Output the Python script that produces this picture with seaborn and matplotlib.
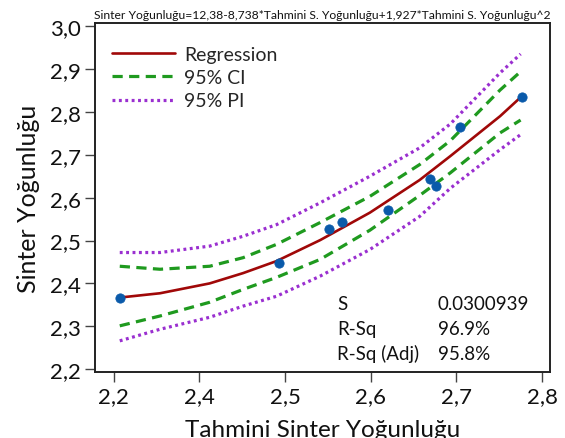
import matplotlib
matplotlib.use("Agg")
import matplotlib.pyplot as plt
import pandas as pd
import seaborn as sns

# observed points (predicted vs measured sinter density)
obs_x = [2.307, 2.493, 2.551, 2.566, 2.620, 2.669, 2.676, 2.704, 2.777]
obs_y = [2.367, 2.447, 2.528, 2.544, 2.572, 2.644, 2.628, 2.765, 2.835]

# curves
curve_x = [2.307, 2.354, 2.412, 2.451, 2.490, 2.541, 2.599, 2.657, 2.693, 2.751, 2.775]
fit_y = [2.367, 2.377, 2.400, 2.424, 2.452, 2.501, 2.565, 2.641, 2.697, 2.790, 2.834]
ci_hi = [2.440, 2.433, 2.440, 2.460, 2.491, 2.542, 2.603, 2.677, 2.733, 2.851, 2.894]
ci_lo = [2.301, 2.324, 2.356, 2.386, 2.414, 2.456, 2.524, 2.605, 2.658, 2.751, 2.781]
pi_hi = [2.472, 2.472, 2.487, 2.510, 2.537, 2.588, 2.650, 2.716, 2.772, 2.891, 2.935]
pi_lo = [2.266, 2.293, 2.321, 2.347, 2.370, 2.417, 2.479, 2.556, 2.622, 2.712, 2.747]

x_ticks = [2.3, 2.4, 2.5, 2.6, 2.7, 2.8]
x_tick_labels = ["2,2", "2,4", "2,5", "2,6", "2,7", "2,8"]
y_ticks = [2.2, 2.3, 2.4, 2.5, 2.6, 2.7, 2.8, 2.9, 3.0]
y_tick_labels = ["2,2", "2,3", "2,4", "2,5", "2,6", "2,7", "2,8", "2,9", "3,0"]

stats_names = ["S", "R-Sq", "R-Sq (Adj)"]
stats_values = ["0.0300939", "96.9%", "95.8%"]

TITLE = "Sinter Yoğunluğu=12,38-8,738*Tahmini S. Yoğunluğu+1,927*Tahmini S. Yoğunluğu^2"

RED = "#a00808"
GREEN = "#1f9a1f"
PURPLE = "#9a2fd0"
BLUE = "#0a5aaa"

sns.set_theme(style="white")
plt.rcParams["font.family"] = ["Lato", "DejaVu Sans"]

fig, ax = plt.subplots(figsize=(5.65, 4.39), dpi=100)
fig.subplots_adjust(left=0.168, right=0.973, top=0.945, bottom=0.150)

curves = pd.DataFrame({"x": curve_x, "fit": fit_y, "ci_hi": ci_hi, "ci_lo": ci_lo,
                       "pi_hi": pi_hi, "pi_lo": pi_lo})

sns.lineplot(data=curves, x="x", y="fit", color=RED, lw=1.9, ax=ax, label="Regression")
sns.lineplot(data=curves, x="x", y="ci_hi", color=GREEN, lw=2.3, ax=ax, label="95% CI")
sns.lineplot(data=curves, x="x", y="ci_lo", color=GREEN, lw=2.3, ax=ax)
sns.lineplot(data=curves, x="x", y="pi_hi", color=PURPLE, lw=2.3, ax=ax, label="95% PI")
sns.lineplot(data=curves, x="x", y="pi_lo", color=PURPLE, lw=2.3, ax=ax)

lines = ax.get_lines()
for ln in lines[1:3]:
    ln.set_linestyle((0, (3.2, 2.0)))
for ln in lines[3:5]:
    ln.set_linestyle((0, (0.9, 1.1)))

sns.scatterplot(x=obs_x, y=obs_y, color=BLUE, s=45, edgecolor=BLUE, zorder=5, ax=ax)

ax.set_xlim(2.278, 2.809)
ax.set_ylim(2.193, 3.007)
ax.set_xticks(x_ticks)
ax.set_xticklabels(x_tick_labels)
ax.set_yticks(y_ticks)
ax.set_yticklabels(y_tick_labels)
ax.tick_params(axis="both", which="major", direction="out", length=7, width=1.0,
               color="#444444", labelsize=16, labelcolor="#111111", pad=3,
               bottom=True, left=True, top=False, right=False)

for sp in ax.spines.values():
    sp.set_visible(True)
    sp.set_color("#222222")
    sp.set_linewidth(1.4)

ax.set_xlabel("Tahmini Sinter Yoğunluğu", fontsize=17.5, color="#111111", labelpad=9)
ax.set_ylabel("Sinter Yoğunluğu", fontsize=18, color="#111111", labelpad=7)
ax.set_title(TITLE, fontsize=8.7, color="#111111", pad=4)

ax.legend(handles=[lines[0], lines[1], lines[3]], labels=["Regression", "95% CI", "95% PI"],
          loc="upper left", frameon=False, fontsize=14, handlelength=3.2,
          handletextpad=0.5, labelspacing=0.32, borderaxespad=0.5,
          bbox_to_anchor=(0.0, 0.985))

for i, (name, val) in enumerate(zip(stats_names, stats_values)):
    yy = 0.198 - i * 0.072
    ax.text(0.532, yy, name, transform=ax.transAxes, fontsize=13.5, va="center", color="#111111")
    ax.text(0.754, yy, val, transform=ax.transAxes, fontsize=13.5, va="center", color="#111111")

fig.savefig("out.png", dpi=100)
